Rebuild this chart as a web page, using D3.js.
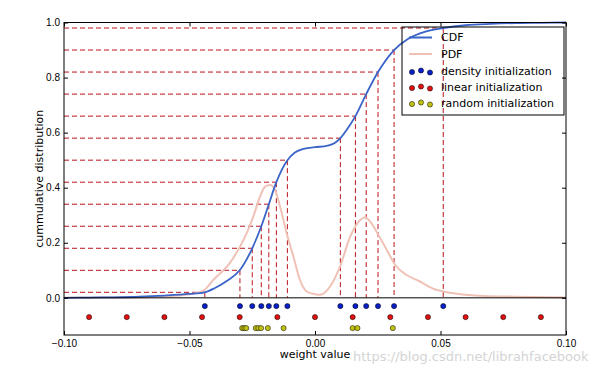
<!DOCTYPE html>
<html>
<head>
<meta charset="utf-8">
<script src="https://cdn.jsdelivr.net/npm/d3@7"></script>
<style>
  body { margin: 0; background: #fff; }
  svg { display: block; font-family: "DejaVu Sans", sans-serif; }
  .axis path { display: none; }
  .axis line { stroke: #000; }
  .axis text { font-size: 10px; fill: #000; }
</style>
</head>
<body>
<svg id="chart" width="599" height="377"></svg>
<script>
// cumulative distribution of the trained weights
var cdfX = [-0.100, -0.090, -0.080, -0.070, -0.060, -0.050, -0.044, -0.040, -0.035, -0.030, -0.025, -0.0214, -0.0184, -0.0154, -0.011, -0.008, -0.005, 0.000, 0.005, 0.008, 0.0101, 0.013, 0.0161, 0.0204, 0.0251, 0.0315, 0.037, 0.044, 0.0511, 0.060, 0.070, 0.080, 0.090, 0.100];
var cdfY = [0.000, 0.001, 0.002, 0.004, 0.008, 0.014, 0.020, 0.035, 0.062, 0.100, 0.180, 0.260, 0.340, 0.420, 0.500, 0.528, 0.540, 0.547, 0.553, 0.563, 0.580, 0.615, 0.660, 0.740, 0.820, 0.900, 0.940, 0.967, 0.980, 0.990, 0.995, 0.998, 0.999, 1.000];

// density (scaled)
var pdfX = [-0.100, -0.080, -0.065, -0.055, -0.050, -0.0446, -0.0405, -0.0339, -0.0299, -0.0272, -0.0246, -0.0219, -0.0199, -0.0179, -0.0159, -0.0139, -0.0113, -0.0086, -0.0060, -0.0033, 0.000, 0.002, 0.006, 0.010, 0.014, 0.018, 0.020, 0.022, 0.0252, 0.0286, 0.0319, 0.0365, 0.0412, 0.0471, 0.0511, 0.0565, 0.067, 0.080, 0.100];
var pdfY = [0.000, 0.001, 0.003, 0.008, 0.013, 0.025, 0.065, 0.127, 0.186, 0.235, 0.295, 0.368, 0.404, 0.410, 0.392, 0.331, 0.235, 0.150, 0.065, 0.023, 0.013, 0.011, 0.041, 0.114, 0.222, 0.283, 0.293, 0.277, 0.229, 0.174, 0.120, 0.083, 0.062, 0.033, 0.023, 0.015, 0.007, 0.004, 0.001];

// initialization centroids
var densityLevels = [0.02, 0.10, 0.18, 0.26, 0.34, 0.42, 0.50, 0.58, 0.66, 0.74, 0.82, 0.90, 0.98];
var densityInit = [-0.0439, -0.0299, -0.0250, -0.0214, -0.0184, -0.0154, -0.0110, 0.0101, 0.0161, 0.0204, 0.0251, 0.0315, 0.0511];
var linearInit = [-0.090, -0.075, -0.060, -0.045, -0.030, -0.015, 0.000, 0.015, 0.030, 0.045, 0.060, 0.075, 0.090];
var randomInit = [-0.0290, -0.0282, -0.0274, -0.0236, -0.0226, -0.0215, -0.0188, -0.0125, 0.0150, 0.0169, 0.0310];
var rowY = { density: -0.03, linear: -0.07, random: -0.11 };

var xTicks = [-0.10, -0.05, 0.00, 0.05, 0.10];
var yTicks = [0.0, 0.2, 0.4, 0.6, 0.8, 1.0];

var plotLeft = 64, plotRight = 566, plotTop = 22.5, plotBottom = 335;
var svg = d3.select("#chart");

var xScale = d3.scaleLinear().domain([-0.1, 0.1]).range([plotLeft, plotRight]);
var yScale = d3.scaleLinear().domain([-0.135, 1.0]).range([plotBottom, plotTop]);

svg.append("rect").attr("width", 599).attr("height", 377).attr("fill", "#fff");

// dashed guide lines from the cdf to the centroids
var red = "#b8141e";
densityInit.forEach(function (d, i) {
    svg.append("line")
        .attr("x1", xScale(-0.1)).attr("x2", xScale(d))
        .attr("y1", yScale(densityLevels[i])).attr("y2", yScale(densityLevels[i]))
        .attr("stroke", red).attr("stroke-width", 1).attr("stroke-dasharray", "5,3");
    svg.append("line")
        .attr("x1", xScale(d)).attr("x2", xScale(d))
        .attr("y1", yScale(densityLevels[i])).attr("y2", yScale(0))
        .attr("stroke", red).attr("stroke-width", 1).attr("stroke-dasharray", "5,3");
});

var line = d3.line()
    .x(function (d) { return xScale(d[0]); })
    .y(function (d) { return yScale(d[1]); })
    .curve(d3.curveMonotoneX);

svg.append("path")
    .datum(pdfX.map(function (x, i) { return [x, pdfY[i]]; }))
    .attr("d", line)
    .attr("fill", "none")
    .attr("stroke", "#f0c2b6")
    .attr("stroke-width", 2);

svg.append("path")
    .datum(cdfX.map(function (x, i) { return [x, cdfY[i]]; }))
    .attr("d", line)
    .attr("fill", "none")
    .attr("stroke", "#3a64c8")
    .attr("stroke-width", 1.8);

// zero line
svg.append("line")
    .attr("x1", plotLeft).attr("x2", plotRight)
    .attr("y1", yScale(0)).attr("y2", yScale(0))
    .attr("stroke", "#000").attr("stroke-width", 1);

function drawPoints(values, yv, color) {
    svg.append("g").selectAll("circle")
        .data(values)
        .enter()
        .append("circle")
        .attr("cx", function (d) { return xScale(d); })
        .attr("cy", yScale(yv))
        .attr("r", 2.6)
        .attr("fill", color)
        .attr("stroke", "#000")
        .attr("stroke-width", 0.5);
}
drawPoints(densityInit, rowY.density, "#0a1ec8");
drawPoints(linearInit, rowY.linear, "#e01010");
drawPoints(randomInit, rowY.random, "#c0c010");

// axes, ticks inside on all four sides
var xAxis = d3.axisBottom(xScale).tickValues(xTicks).tickSizeInner(-4).tickSizeOuter(0).tickPadding(5).tickFormat(d3.format(".2f"));
svg.append("g").attr("class", "axis").attr("transform", "translate(0," + plotBottom + ")").call(xAxis);
svg.append("g").attr("class", "axis").attr("transform", "translate(0," + plotTop + ")")
    .call(d3.axisTop(xScale).tickValues(xTicks).tickSizeInner(-4).tickSizeOuter(0).tickFormat(""));

var yAxis = d3.axisLeft(yScale).tickValues(yTicks).tickSizeInner(-4).tickSizeOuter(0).tickPadding(4).tickFormat(d3.format(".1f"));
svg.append("g").attr("class", "axis").attr("transform", "translate(" + plotLeft + ",0)").call(yAxis);
svg.append("g").attr("class", "axis").attr("transform", "translate(" + plotRight + ",0)")
    .call(d3.axisRight(yScale).tickValues(yTicks).tickSizeInner(-4).tickSizeOuter(0).tickFormat(""));

svg.append("rect")
    .attr("x", plotLeft).attr("y", plotTop)
    .attr("width", plotRight - plotLeft).attr("height", plotBottom - plotTop)
    .attr("fill", "none").attr("stroke", "#000").attr("stroke-width", 1);

svg.append("text")
    .attr("x", (plotLeft + plotRight) / 2).attr("y", 358)
    .attr("text-anchor", "middle").attr("font-size", 11)
    .text("weight value");

svg.append("text")
    .attr("transform", "translate(43," + ((plotTop + plotBottom) / 2) + ") rotate(-90)")
    .attr("text-anchor", "middle").attr("font-size", 11)
    .text("cummulative distribution");

// legend (no fill, lines show through)
var lg = svg.append("g");
lg.append("rect")
    .attr("x", 402).attr("y", 27).attr("width", 162).attr("height", 88)
    .attr("fill", "none").attr("stroke", "#000").attr("stroke-width", 1);

var legendItems = [
    { label: "CDF", type: "line", color: "#3a64c8", y: 37.5 },
    { label: "PDF", type: "line", color: "#f0c2b6", y: 54 },
    { label: "density initialization", type: "dots", color: "#0a1ec8", y: 71 },
    { label: "linear initialization", type: "dots", color: "#e01010", y: 87 },
    { label: "random initialization", type: "dots", color: "#c0c010", y: 103 }
];
legendItems.forEach(function (it) {
    if (it.type == "line") {
        lg.append("line")
            .attr("x1", 409).attr("x2", 432)
            .attr("y1", it.y).attr("y2", it.y)
            .attr("stroke", it.color).attr("stroke-width", 2);
    } else {
        [[412, 1], [421, -0.5], [430, 1.5]].forEach(function (p) {
            lg.append("circle")
                .attr("cx", p[0]).attr("cy", it.y + p[1]).attr("r", 2.6)
                .attr("fill", it.color).attr("stroke", "#000").attr("stroke-width", 0.5);
        });
    }
    lg.append("text")
        .attr("x", 441).attr("y", it.y).attr("dy", "0.35em")
        .attr("font-size", 11)
        .text(it.label);
});

// watermark
svg.append("text")
    .attr("x", 353).attr("y", 361)
    .attr("font-size", 13)
    .attr("fill", "#d4d4d4")
    .text("https://blog.csdn.net/librahfacebook");
</script>
</body>
</html>
